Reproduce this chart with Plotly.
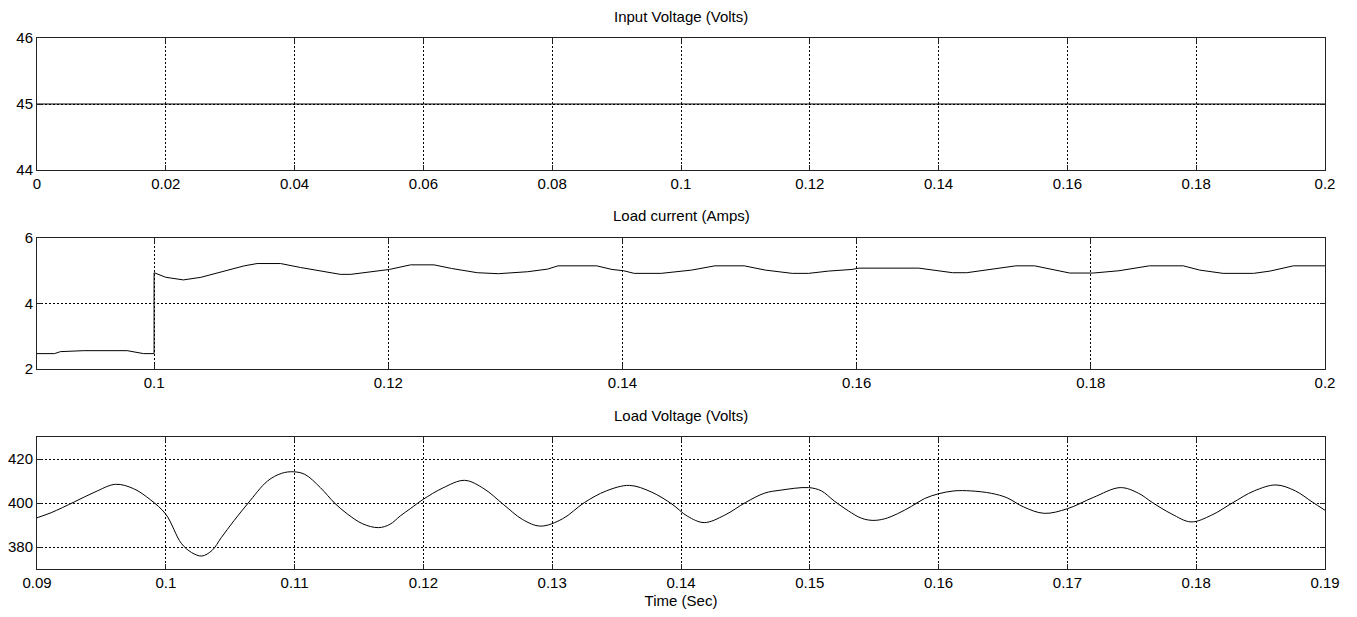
import plotly.graph_objects as go

# ---------------- data ----------------
t_input = [0.0, 0.2]
v_input = [45.0, 45.0]

t_current = [0.0900, 0.0915, 0.0920, 0.0940, 0.0977, 0.0991, 0.1000, 0.1000,
             0.1010, 0.1025, 0.1040, 0.1054, 0.1065, 0.1077, 0.1088, 0.1108,
             0.1125, 0.1140, 0.1159, 0.1168, 0.1182, 0.1201, 0.1219, 0.1239,
             0.1254, 0.1276, 0.1294, 0.1319, 0.1336, 0.1345, 0.1378, 0.1391,
             0.1401, 0.1410, 0.1433, 0.1459, 0.1479, 0.1504, 0.1522, 0.1545,
             0.1559, 0.1576, 0.1596, 0.1602, 0.1653, 0.1679, 0.1682, 0.1694,
             0.1722, 0.1736, 0.1752, 0.1767, 0.1782, 0.1802, 0.1824, 0.1850,
             0.1879, 0.1893, 0.1913, 0.1939, 0.1953, 0.1973, 0.2000]
i_current = [2.47, 2.47, 2.53, 2.56, 2.56, 2.47, 2.47, 4.94,
             4.80, 4.72, 4.80, 4.93, 5.03, 5.15, 5.22, 5.22,
             5.10, 5.00, 4.89, 4.89, 4.95, 5.04, 5.18, 5.18,
             5.07, 4.94, 4.91, 4.97, 5.05, 5.15, 5.15, 5.04,
             5.00, 4.92, 4.92, 5.02, 5.15, 5.15, 5.02, 4.92,
             4.92, 4.99, 5.04, 5.08, 5.08, 4.96, 4.94, 4.94,
             5.07, 5.15, 5.15, 5.04, 4.93, 4.93, 5.00, 5.15,
             5.15, 5.02, 4.92, 4.92, 4.99, 5.15, 5.15]

t_voltage = [0.0900, 0.0911, 0.0929, 0.0945, 0.0961, 0.0975, 0.0988, 0.1000,
             0.1012, 0.1020, 0.1028, 0.1036, 0.1043, 0.1053, 0.1064, 0.1079,
             0.1090, 0.1099, 0.1108, 0.1120, 0.1131, 0.1141, 0.1153, 0.1165,
             0.1174, 0.1182, 0.1190, 0.1200, 0.1215, 0.1232, 0.1247, 0.1262,
             0.1277, 0.1291, 0.1308, 0.1325, 0.1342, 0.1360, 0.1377, 0.1393,
             0.1405, 0.1418, 0.1434, 0.1450, 0.1465, 0.1477, 0.1499, 0.1509,
             0.1519, 0.1530, 0.1540, 0.1549, 0.1558, 0.1568, 0.1579, 0.1589,
             0.1600, 0.1612, 0.1625, 0.1641, 0.1653, 0.1666, 0.1682, 0.1700,
             0.1720, 0.1741, 0.1755, 0.1766, 0.1781, 0.1796, 0.1812, 0.1828,
             0.1845, 0.1862, 0.1877, 0.1890, 0.1900]
v_load = [393.3, 395.6, 400.5, 405.0, 408.5, 406.5, 401.5, 394.9,
          381.7, 377.5, 375.9, 378.5, 384.2, 392.0, 400.0, 410.0,
          413.5, 414.2, 413.0, 407.0, 400.0, 395.0, 390.5, 388.8,
          390.3, 394.1, 397.5, 401.7, 406.8, 410.3, 406.5, 399.4,
          392.5, 389.5, 392.8, 400.2, 405.5, 408.0, 405.0, 399.5,
          394.0, 391.1, 394.5, 400.2, 404.5, 405.8, 407.0, 405.5,
          400.9, 396.4, 393.1, 392.1, 392.8, 395.1, 398.5, 402.0,
          404.2, 405.5, 405.5, 404.4, 402.4, 398.2, 395.3, 397.4,
          402.5, 407.0, 404.5, 400.2, 395.0, 391.4, 394.5, 400.0,
          405.5, 408.2, 405.5, 400.5, 396.7]

x1_ticks = [0.0, 0.02, 0.04, 0.06, 0.08, 0.1, 0.12, 0.14, 0.16, 0.18, 0.2]
x1_text = ["0", "0.02", "0.04", "0.06", "0.08", "0.1", "0.12", "0.14", "0.16", "0.18", "0.2"]
x2_ticks = [0.1, 0.12, 0.14, 0.16, 0.18, 0.2]
x2_text = ["0.1", "0.12", "0.14", "0.16", "0.18", "0.2"]
x3_ticks = [0.09, 0.10, 0.11, 0.12, 0.13, 0.14, 0.15, 0.16, 0.17, 0.18, 0.19]
x3_text = ["0.09", "0.1", "0.11", "0.12", "0.13", "0.14", "0.15", "0.16", "0.17", "0.18", "0.19"]
y1_ticks = [44, 45, 46]
y2_ticks = [2, 4, 6]
y3_ticks = [380, 400, 420]

titles = ["Input Voltage (Volts)", "Load current (Amps)", "Load Voltage (Volts)"]
xlabel = "Time (Sec)"

# ---------------- figure ----------------
FONT = "Arial, Liberation Sans, sans-serif"
OFF = 8                      # page body margin in the browser
W, H = 1357 - OFF, 617 - OFF
ml, mr, mt, mb = 37 - OFF, 32, 38 - OFF, 48
ph = H - mt - mb

def dom(top, bottom):
    # top/bottom given in screen pixels
    return [(H + OFF - mb - bottom) / ph, (H + OFF - mb - top) / ph]

fig = go.Figure()
fig.add_trace(go.Scatter(x=t_input, y=v_input, mode="lines", line=dict(color="black", width=1),
                         xaxis="x", yaxis="y", showlegend=False))
fig.add_trace(go.Scatter(x=t_current, y=i_current, mode="lines", line=dict(color="black", width=1),
                         xaxis="x2", yaxis="y2", showlegend=False))
fig.add_trace(go.Scatter(x=t_voltage, y=v_load, mode="lines",
                         line=dict(color="black", width=1, shape="spline", smoothing=1.0),
                         xaxis="x3", yaxis="y3", showlegend=False))

common = dict(showline=True, linecolor="#222", linewidth=1, mirror="ticks", ticks="inside", ticklen=5,
              tickcolor="#222", showgrid=True, gridcolor="black", griddash="2px,2px", gridwidth=1,
              zeroline=False, automargin=False, tickfont=dict(family=FONT, size=15, color="black"))

fig.update_layout(
    width=W, height=H, paper_bgcolor="white", plot_bgcolor="white",
    margin=dict(l=ml, r=mr, t=mt, b=mb, autoexpand=False),
    font=dict(family=FONT, size=15, color="black"),
    xaxis=dict(domain=[0, 1], anchor="y", range=[0, 0.2], tickvals=x1_ticks, ticktext=x1_text, **common),
    yaxis=dict(domain=dom(38, 170), anchor="x", range=[44, 46], tickvals=y1_ticks, **common),
    xaxis2=dict(domain=[0, 1], anchor="y2", range=[0.09, 0.2], tickvals=x2_ticks, ticktext=x2_text, **common),
    yaxis2=dict(domain=dom(238, 369), anchor="x2", range=[2, 6], tickvals=y2_ticks, **common),
    xaxis3=dict(domain=[0, 1], anchor="y3", range=[0.09, 0.19], tickvals=x3_ticks, ticktext=x3_text,
                title=dict(text=xlabel, font=dict(family=FONT, size=15), standoff=5), **common),
    yaxis3=dict(domain=dom(437, 569), anchor="x3", range=[370, 430], tickvals=y3_ticks, **common),
)

for txt, ypix in zip(titles, [16, 216, 415]):
    fig.add_annotation(text=txt, x=0.5, xref="paper", y=1 - (ypix - OFF - mt) / ph, yref="paper",
                       showarrow=False, font=dict(family=FONT, size=15, color="black"),
                       xanchor="center", yanchor="middle")

fig.write_html("out.html")
